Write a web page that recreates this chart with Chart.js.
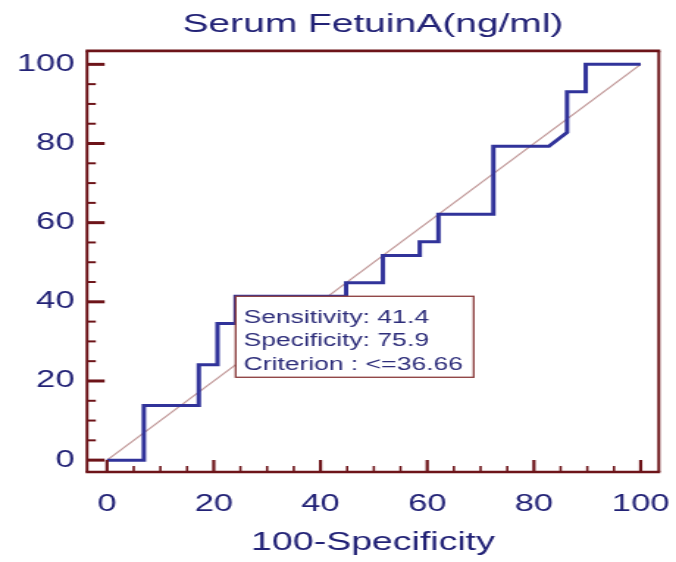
<!DOCTYPE html>
<html><head><meta charset="utf-8">
<script src="https://cdn.jsdelivr.net/npm/chart.js@4"></script>
<style>
html,body{margin:0;padding:0;background:#fff;overflow:hidden;width:676px;height:562px;}
#wrap{position:absolute;left:0;top:0;width:460px;height:562px;transform:scaleX(1.4696);transform-origin:0 0;}
</style></head><body>
<div id="wrap"><canvas id="c"></canvas></div>
<script>
const chartTitle = 'Serum FetuinA(ng/ml)';
const xAxisTitle = '100-Specificity';
// ROC curve: 100-Specificity (x) and Sensitivity (y)
const fpr = [0, 6.9, 6.9, 17.2, 17.2, 20.7, 20.7, 24.1, 24.1, 44.8, 44.8, 51.7, 51.7, 58.6, 58.6, 62.1, 62.1, 72.4, 72.4, 82.8, 86.2, 86.2, 89.7, 89.7, 100];
const tpr = [0, 0, 13.8, 13.8, 24.1, 24.1, 34.5, 34.5, 41.4, 41.4, 44.8, 44.8, 51.7, 51.7, 55.2, 55.2, 62.1, 62.1, 79.3, 79.3, 82.8, 93.1, 93.1, 100, 100];
// reference diagonal
const diagX = [0, 100];
const diagY = [0, 100];
const xTickValues = [0, 20, 40, 60, 80, 100];
const yTickValues = [0, 20, 40, 60, 80, 100];
const minorTickValues = [0,5,10,15,20,25,30,35,40,45,50,55,60,65,70,75,80,85,90,95,100];
const criterionPoint = [24.1, 41.4];
const criterionLines = ['Sensitivity: 41.4', 'Specificity: 75.9', 'Criterion : <=36.66'];

const FONT = '"Liberation Sans", Arial, sans-serif';
const NAVY = '#222276';
const MAROON = '#6d1419';

const framePlugin = {
  id: 'frameAndBox',
  afterDatasetsDraw(chart) {
    const {ctx, scales: {x, y}} = chart;
    const px = x.getPixelForValue(criterionPoint[0]);
    const py = y.getPixelForValue(criterionPoint[1]);
    const w = 162, h = 81;
    ctx.save();
    ctx.fillStyle = '#ffffff';
    ctx.fillRect(px, py, w, h);
    ctx.strokeStyle = '#8a3b3b';
    ctx.lineWidth = 1.3;
    ctx.strokeRect(px, py, w, h);
    ctx.fillStyle = '#2d2d7a';
    ctx.font = '18px ' + FONT;
    ctx.textBaseline = 'alphabetic';
    ctx.textAlign = 'left';
    criterionLines.forEach((t, i) => ctx.fillText(t, px + 5.5, py + 26.5 + i * 23.5));
    ctx.restore();
  },
  afterDraw(chart) {
    const {ctx, chartArea: a, scales: {x, y}} = chart;
    ctx.save();
    ctx.strokeStyle = MAROON;
    ctx.lineCap = 'butt';
    minorTickValues.forEach(v => {
      const major = xTickValues.includes(v);
      const len = major ? 12 : 6;
      ctx.lineWidth = major ? 2.2 : 1.6;
      const xp = x.getPixelForValue(v);
      ctx.beginPath(); ctx.moveTo(xp, a.bottom); ctx.lineTo(xp, a.bottom - len); ctx.stroke();
    });
    minorTickValues.forEach(v => {
      const major = yTickValues.includes(v);
      const len = major ? 12 : 6;
      ctx.lineWidth = major ? 3 : 2;
      const yp = y.getPixelForValue(v);
      ctx.beginPath(); ctx.moveTo(a.left, yp); ctx.lineTo(a.left + len, yp); ctx.stroke();
    });
    ctx.lineWidth = 2.6;
    ctx.beginPath(); ctx.moveTo(a.left - 1, a.top); ctx.lineTo(a.right + 1, a.top); ctx.stroke();
    ctx.beginPath(); ctx.moveTo(a.left - 1, a.bottom); ctx.lineTo(a.right + 1, a.bottom); ctx.stroke();
    ctx.lineWidth = 2;
    ctx.beginPath(); ctx.moveTo(a.left, a.top); ctx.lineTo(a.left, a.bottom); ctx.stroke();
    ctx.beginPath(); ctx.moveTo(a.right, a.top); ctx.lineTo(a.right, a.bottom); ctx.stroke();
    ctx.restore();
  }
};

new Chart(document.getElementById('c'), {
  type: 'scatter',
  data: {
    datasets: [
      {
        label: 'ROC',
        data: fpr.map((v, i) => ({x: v, y: tpr[i]})),
        showLine: true, borderColor: '#31339a', borderWidth: 3,
        pointRadius: 0, fill: false, tension: 0, order: 0
      },
      {
        label: 'Reference',
        data: diagX.map((v, i) => ({x: v, y: diagY[i]})),
        showLine: true, borderColor: '#c29a9a', borderWidth: 1.3,
        pointRadius: 0, fill: false, tension: 0, order: 1
      }
    ]
  },
  options: {
    responsive: true, maintainAspectRatio: false, animation: false,
    layout: {padding: {left: 0, right: 11.7, top: 0, bottom: 0}},
    plugins: {
      legend: {display: false},
      tooltip: {enabled: false},
      title: {
        display: true, text: chartTitle, fullSize: false, color: NAVY,
        font: {family: FONT, size: 26.5, weight: 'normal'},
        padding: {top: 9, bottom: 10.1}
      }
    },
    scales: {
      x: {
        type: 'linear', min: -3.75, max: 103.4,
        afterBuildTicks: s => { s.ticks = xTickValues.map(v => ({value: v})); },
        afterFit: s => { s.height = 90; s.paddingLeft = 0; s.paddingRight = 0; },
        grid: {display: false, drawTicks: false},
        border: {display: false},
        ticks: {color: NAVY, font: {family: FONT, size: 23.5}, padding: 18.3, maxRotation: 0, autoSkip: false},
        title: {display: true, text: xAxisTitle, color: NAVY, font: {family: FONT, size: 25.5}, padding: {top: 0, bottom: 3.5}}
      },
      y: {
        type: 'linear', min: -3, max: 103.4,
        afterBuildTicks: s => { s.ticks = yTickValues.map(v => ({value: v})); },
        afterFit: s => { s.width = 59.2; s.paddingTop = 0; s.paddingBottom = 0; },
        grid: {display: false, drawTicks: false},
        border: {display: false},
        ticks: {color: NAVY, font: {family: FONT, size: 23.5}, padding: 8.5, autoSkip: false}
      }
    }
  },
  plugins: [framePlugin]
});
</script>
</body></html>
